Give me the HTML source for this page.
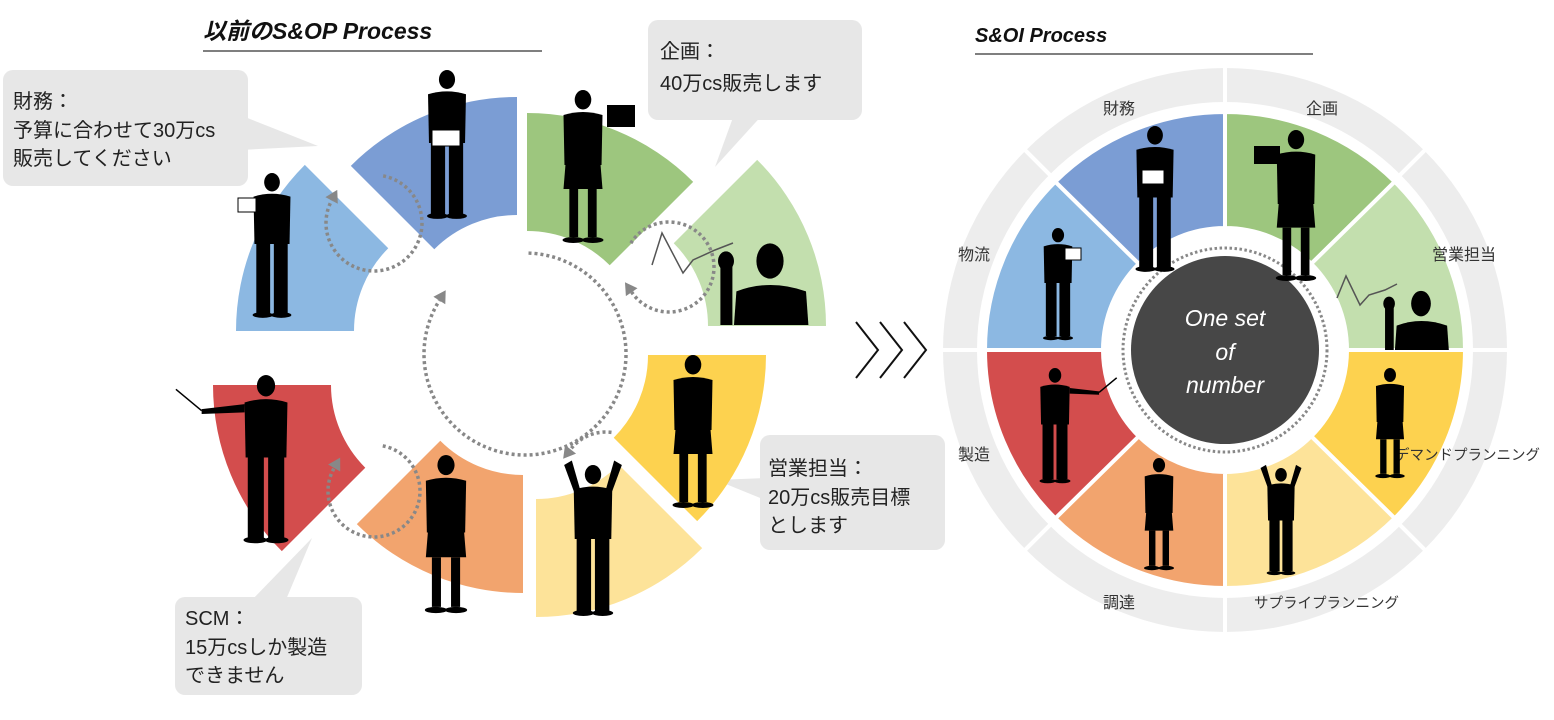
<!DOCTYPE html>
<html><head><meta charset="utf-8">
<style>
html,body{margin:0;padding:0;background:#fff;}
body{width:1554px;height:720px;overflow:hidden;position:relative;font-family:"Liberation Sans","Noto Sans CJK JP",sans-serif;}
svg{position:absolute;left:0;top:0;}
text{font-family:"Liberation Sans","Noto Sans CJK JP",sans-serif;}
</style></head>
<body>
<svg id="s" width="1554" height="720" viewBox="0 0 1554 720" xmlns="http://www.w3.org/2000/svg">
<text x="203" y="39" font-size="23" font-weight="bold" font-style="italic" fill="#111">以前のS&amp;OP Process</text>
<line x1="203" y1="51" x2="542" y2="51" stroke="#555" stroke-width="1.5"/>
<text x="975" y="42" font-size="20" font-weight="bold" font-style="italic" fill="#111">S&amp;OI Process</text>
<line x1="975" y1="54" x2="1313" y2="54" stroke="#555" stroke-width="1.5"/>
<g fill="#e7e7e7">
<rect x="3" y="70" width="245" height="116" rx="10"/>
<polygon points="240,115 240,150 318,146"/>
<rect x="648" y="20" width="214" height="100" rx="10"/>
<polygon points="735,112 765,112 715,167"/>
<rect x="760" y="435" width="185" height="115" rx="10"/>
<polygon points="765,478 765,500 716,480"/>
<rect x="175" y="597" width="187" height="98" rx="10"/>
<polygon points="250,602 285,602 312,538"/>
</g>
<g font-size="20" fill="#222">
<text x="13" y="108">財務：</text><text x="13" y="137">予算に合わせて30万cs</text><text x="13" y="165">販売してください</text>
<text x="660" y="58">企画：</text><text x="660" y="90">40万cs販売します</text>
<text x="768" y="475">営業担当：</text><text x="768" y="504">20万cs販売目標</text><text x="768" y="532">とします</text>
<text x="185" y="625">SCM：</text><text x="185" y="654">15万csしか製造</text><text x="185" y="682">できません</text>
</g>
<g fill="none" stroke="#111" stroke-width="2">
<polyline points="856,322 878,350 856,378"/><polyline points="880,322 902,350 880,378"/><polyline points="904,322 926,350 904,378"/>
</g>
<g id="L"></g>
<g id="R"></g>
</svg>
<script>
var NS="http://www.w3.org/2000/svg";
function el(p,t,a){var e=document.createElementNS(NS,t);for(var k in a)e.setAttribute(k,a[k]);p.appendChild(e);return e;}
function pt(cx,cy,rx,ry,a){a=a*Math.PI/180;return [cx+rx*Math.cos(a),cy+ry*Math.sin(a)];}
function sector(cx,cy,rxo,ryo,rxi,ryi,a1,a2){
 var o1=pt(cx,cy,rxo,ryo,a1),o2=pt(cx,cy,rxo,ryo,a2),i2=pt(cx,cy,rxi,ryi,a2),i1=pt(cx,cy,rxi,ryi,a1);
 return "M"+o1+" A"+rxo+" "+ryo+" 0 0 1 "+o2+" L"+i2+" A"+rxi+" "+ryi+" 0 0 0 "+i1+" Z";}
var L=document.getElementById("L"),R=document.getElementById("R");
var secs=[[-90,-45,527,348,"#9dc67e"],[-45,0,591,326,"#c3dfae"],[0,45,531,355,"#fdd24f"],[45,90,536,382,"#fde399"],
[90,135,523,358,"#f2a46e"],[135,180,448,385,"#d34d4d"],[180,225,471,331,"#8cb8e2"],[225,270,517,332,"#7b9dd4"]];
secs.forEach(function(s){el(L,"path",{d:sector(s[2],s[3],235,235,117,117,s[0],s[1]),fill:s[4]});});
function darc(g,cx,cy,r,a1,a2,ccw){
 var p1=pt(cx,cy,r,r,a1),p2=pt(cx,cy,r,r,a2);
 var sw=ccw?((a1-a2+720)%360):((a2-a1+720)%360);var large=sw>180?1:0;
 el(g,"path",{d:"M"+p1+" A"+r+" "+r+" 0 "+large+" "+(ccw?0:1)+" "+p2,fill:"none",stroke:"#888","stroke-width":3.5,"stroke-dasharray":"3 3"});
 var a=a2*Math.PI/180;var tx=-Math.sin(a),ty=Math.cos(a);if(ccw){tx=-tx;ty=-ty;}
 var b=[p2[0]+tx*12,p2[1]+ty*12],l=[p2[0]-ty*7,p2[1]+tx*7],rr=[p2[0]+ty*7,p2[1]-tx*7];
 el(g,"polygon",{points:b+" "+l+" "+rr,fill:"#888"});
}
darc(L,525,354,101,-88,212);
darc(L,374,223,48,-79,208);
darc(L,669,267,45,-148,146);
darc(L,606,477,45,-83,218,true);
darc(L,374,491,46,-79,210);
function person(g,cx,top,h,opt){
 opt=opt||{};var hr=h*0.065,sw=h*0.13;
 el(g,"ellipse",{cx:cx,cy:top+hr,rx:hr*0.85,ry:hr,fill:"#000"});
 var y1=top+hr*2.1,y2=top+h*0.5;
 el(g,"path",{d:"M"+(cx-sw)+","+(y1+h*0.03)+" Q"+cx+","+(y1-h*0.01)+" "+(cx+sw)+","+(y1+h*0.03)+" L"+(cx+sw*0.95)+","+(y2)+" L"+(cx-sw*0.95)+","+(y2)+" Z",fill:"#000"});
 if(opt.skirt){el(g,"polygon",{points:(cx-sw*0.9)+","+y2+" "+(cx+sw*0.9)+","+y2+" "+(cx+sw)+","+(top+h*0.66)+" "+(cx-sw)+","+(top+h*0.66),fill:"#000"});
  el(g,"rect",{x:cx-sw*0.7,y:top+h*0.66,width:sw*0.45,height:h*0.32,fill:"#000"});el(g,"rect",{x:cx+sw*0.25,y:top+h*0.66,width:sw*0.45,height:h*0.32,fill:"#000"});}
 else{el(g,"rect",{x:cx-sw*0.85,y:y2-2,width:sw*0.75,height:h*0.5,fill:"#000"});el(g,"rect",{x:cx+sw*0.1,y:y2-2,width:sw*0.75,height:h*0.5,fill:"#000"});}
 el(g,"ellipse",{cx:cx-sw*0.5,cy:top+h,rx:sw*0.55,ry:h*0.02,fill:"#000"});el(g,"ellipse",{cx:cx+sw*0.5,cy:top+h,rx:sw*0.55,ry:h*0.02,fill:"#000"});
 if(opt.arms){el(g,"polygon",{points:(cx-sw)+","+(y1+h*0.04)+" "+(cx-sw*0.6)+","+(y1+h*0.06)+" "+(cx-sw*1.1)+","+(top-h*0.03)+" "+(cx-sw*1.5)+","+(top),fill:"#000"});
  el(g,"polygon",{points:(cx+sw)+","+(y1+h*0.04)+" "+(cx+sw*0.6)+","+(y1+h*0.06)+" "+(cx+sw*1.1)+","+(top-h*0.03)+" "+(cx+sw*1.5)+","+(top),fill:"#000"});}
 if(opt.point){el(g,"polygon",{points:(cx-sw)+","+(y1+h*0.04)+" "+(cx-sw)+","+(y1+h*0.09)+" "+(cx-sw*3)+","+(y1+h*0.1)+" "+(cx-sw*3)+","+(y1+h*0.07),fill:"#000"});
  el(g,"line",{x1:cx-sw*3,y1:y1+h*0.08,x2:cx-sw*4.2,y2:y1-h*0.05,stroke:"#000","stroke-width":1.5});}
 if(opt.pointR){el(g,"polygon",{points:(cx+sw)+","+(y1+h*0.04)+" "+(cx+sw)+","+(y1+h*0.09)+" "+(cx+sw*3)+","+(y1+h*0.1)+" "+(cx+sw*3)+","+(y1+h*0.07),fill:"#000"});
  el(g,"line",{x1:cx+sw*3,y1:y1+h*0.08,x2:cx+sw*4.2,y2:y1-h*0.05,stroke:"#000","stroke-width":1.5});}
 if(opt.board){el(g,"rect",{x:opt.board[0],y:opt.board[1],width:opt.board[2],height:opt.board[3],fill:"#000"});}
 if(opt.paper){el(g,"rect",{x:opt.paper[0],y:opt.paper[1],width:opt.paper[2],height:opt.paper[3],fill:"#fff",stroke:"#000","stroke-width":1});}
}
function bust(g,cx,top,h){
 el(g,"ellipse",{cx:cx,cy:top+h*0.2,rx:h*0.17,ry:h*0.22,fill:"#000"});
 el(g,"path",{d:"M"+(cx-h*0.45)+","+(top+h)+" L"+(cx-h*0.42)+","+(top+h*0.58)+" Q"+cx+","+(top+h*0.42)+" "+(cx+h*0.45)+","+(top+h*0.58)+" L"+(cx+h*0.48)+","+(top+h)+" Z",fill:"#000"});
 el(g,"rect",{x:cx-h*0.62,y:top+h*0.2,width:h*0.15,height:h*0.8,fill:"#000"});
 el(g,"ellipse",{cx:cx-h*0.55,cy:top+h*0.2,rx:h*0.1,ry:h*0.12,fill:"#000"});
}
person(L,447,70,146,{paper:[432,130,28,16]});
person(L,583,90,150,{skirt:1,board:[607,105,28,22]});
person(L,272,173,142,{paper:[238,198,18,14]});
bust(L,770,245,80);
el(L,"polyline",{points:"652,265 662,233 683,273 693,260 715,250 733,243",fill:"none",stroke:"#555","stroke-width":1.5});
person(L,693,355,150,{skirt:1});
person(L,593,465,148,{arms:1});
person(L,446,455,155,{skirt:1});
person(L,266,375,165,{point:1});
var cx=1225,cy=350;
el(R,"circle",{cx:cx,cy:cy,r:282,fill:"#ededed"});
el(R,"circle",{cx:cx,cy:cy,r:248,fill:"#fff"});
for(var i=0;i<8;i++){var p=pt(cx,cy,290,290,i*45);el(R,"line",{x1:cx,y1:cy,x2:p[0],y2:p[1],stroke:"#fff","stroke-width":4});}
var rs=[[-90,-45,"#9dc67e"],[-45,0,"#c3dfae"],[0,45,"#fdd24f"],[45,90,"#fde399"],[90,135,"#f2a46e"],[135,180,"#d34d4d"],[180,225,"#8cb8e2"],[225,270,"#7b9dd4"]];
rs.forEach(function(s){el(R,"path",{d:sector(cx,cy,240,238,122,122,s[0],s[1]),fill:s[2],stroke:"#fff","stroke-width":4});});
el(R,"circle",{cx:cx,cy:cy,r:102,fill:"none",stroke:"#888","stroke-width":3,"stroke-dasharray":"2.5 2.5"});
el(R,"circle",{cx:cx,cy:cy,r:94,fill:"#474747"});
var tt=[["One set",326],["of",360],["number",393]];
tt.forEach(function(t){var e=el(R,"text",{x:cx,y:t[1],"font-size":23,"font-style":"italic",fill:"#fff","text-anchor":"middle"});e.textContent=t[0];});
var labs=[["財務",1103,114,16],["企画",1306,114,16],["物流",958,260,16],["営業担当",1432,260,16],["製造",958,460,16],["デマンドプランニング",1395,460,14.5],["調達",1103,608,16],["サプライプランニング",1254,608,14.5]];
labs.forEach(function(l){var e=el(R,"text",{x:l[1],y:l[2],"font-size":l[3],fill:"#333"});e.textContent=l[0];});
person(R,1155,126,143,{paper:[1142,170,22,14]});
person(R,1296,130,148,{skirt:1,board:[1254,146,26,18]});
person(R,1058,228,110,{paper:[1065,248,16,12]});
bust(R,1421,292,58);
el(R,"polyline",{points:"1337,298 1346,276 1360,305 1369,295 1385,290 1397,284",fill:"none",stroke:"#555","stroke-width":1.5});
person(R,1390,368,108,{skirt:1});
person(R,1281,468,105,{arms:1});
person(R,1159,458,110,{skirt:1});
person(R,1055,368,113,{pointR:1});
</script>
</body></html>
